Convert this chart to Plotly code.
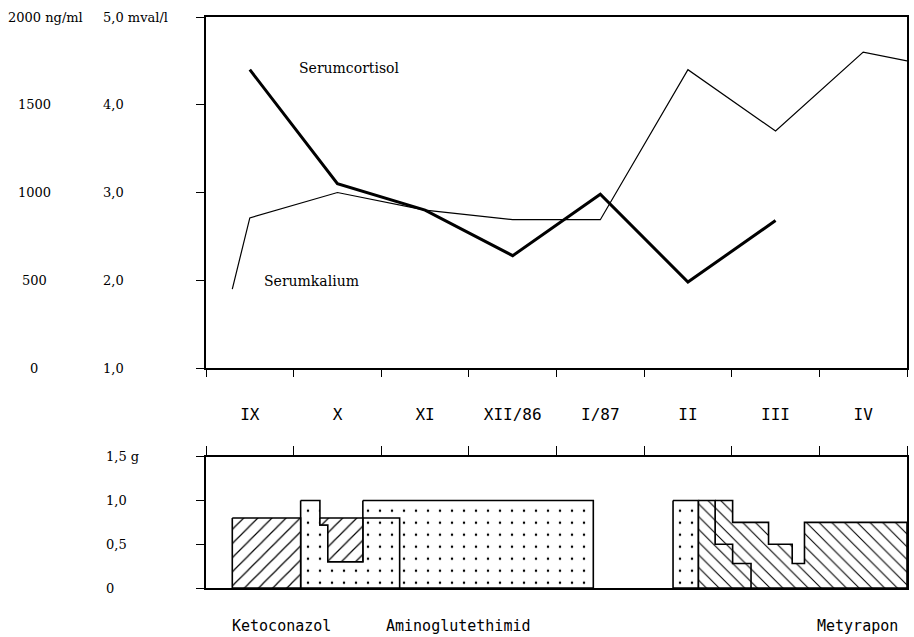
import plotly.graph_objects as go

# ---------------- data ----------------
months = ["IX", "X", "XI", "XII/86", "I/87", "II", "III", "IV"]
month_pos = [0.5, 1.5, 2.5, 3.5, 4.5, 5.5, 6.5, 7.5]

cortisol_x = [0.5, 1.5, 2.5, 3.5, 4.5, 5.5, 6.5]
cortisol = [1700, 1050, 900, 640, 990, 490, 840]          # ng/ml

kalium_x = [0.30, 0.5, 1.5, 2.5, 3.5, 4.5, 5.5, 6.5, 7.5, 8.0]
kalium = [1.90, 2.71, 3.00, 2.80, 2.69, 2.69, 4.40, 3.70, 4.60, 4.50]  # mval/l

cort_ticks = [0, 500, 1000, 1500, 2000]
cort_text = ["0", "500", "1000", "1500", "2000 ng/ml"]
kal_ticks = [1, 2, 3, 4, 5]
kal_text = ["1,0", "2,0", "3,0", "4,0", "5,0 mval/l"]
dose_ticks = [0, 0.5, 1.0, 1.5]
dose_text = ["0", "0,5", "1,0", "1,5 g"]

# dosage step blocks (g/day): edges in months, level per interval
keto_edges_1 = [0.30, 1.08]
keto_top_1 = [0.80]
keto_edges_2 = [1.30, 1.39, 1.79]
keto_top_2 = [0.80, 0.80]
keto_base_2 = [0.72, 0.30]

ag_edges_1 = [1.79, 4.42]
ag_top_1 = [1.0]
ag_edges_2 = [1.08, 1.30, 1.39, 1.79, 2.21]
ag_top_2 = [1.0, 0.72, 0.30, 0.80]
ag_edges_3 = [5.33, 5.62]
ag_top_3 = [1.0]

mety_edges_1 = [5.81, 6.01, 6.42, 6.69, 6.83, 8.0]
mety_top_1 = [1.0, 0.75, 0.50, 0.28, 0.75]
mety_edges_2 = [5.62, 5.81, 6.01, 6.22]
mety_top_2 = [1.0, 0.50, 0.28]

drugs = ["Ketoconazol", "Aminoglutethimid", "Metyrapon"]
drug_pos = [0.86, 2.88, 7.44]


def step_polygon(edges, top, base=None):
    if base is None:
        base = [0] * len(top)
    xs, ys = [], []
    for i, t in enumerate(top):
        xs += [edges[i], edges[i + 1]]
        ys += [t, t]
    for i in reversed(range(len(base))):
        xs += [edges[i + 1], edges[i]]
        ys += [base[i], base[i]]
    xs.append(xs[0])
    ys.append(ys[0])
    return xs, ys


fig = go.Figure()

# ---------------- top panel ----------------
fig.add_trace(go.Scatter(x=kalium_x, y=kalium, mode="lines",
                         line=dict(color="black", width=1.2),
                         xaxis="x", yaxis="y", hoverinfo="skip", showlegend=False))
fig.add_trace(go.Scatter(x=cortisol_x, y=cortisol, mode="lines",
                         line=dict(color="black", width=3),
                         xaxis="x", yaxis="y2", hoverinfo="skip", showlegend=False))

# ---------------- bottom panel ----------------
def add_block(edges, top, shape, size, solidity, base=None):
    xs, ys = step_polygon(edges, top, base)
    fig.add_trace(go.Scatter(
        x=xs, y=ys, mode="lines", fill="toself",
        fillcolor="white",
        fillpattern=dict(shape=shape, bgcolor="white", fgcolor="black",
                         size=size, solidity=solidity, fillmode="replace"),
        line=dict(color="black", width=1.6),
        xaxis="x2", yaxis="y3", hoverinfo="skip", showlegend=False))


add_block(ag_edges_1, ag_top_1, ".", 12, 0.035)
add_block(ag_edges_2, ag_top_2, ".", 12, 0.035)
add_block(ag_edges_3, ag_top_3, ".", 12, 0.035)
add_block(keto_edges_1, keto_top_1, "/", 10, 0.12)
add_block(keto_edges_2, keto_top_2, "/", 10, 0.12, keto_base_2)
add_block(mety_edges_1, mety_top_1, "\\", 9, 0.12)
add_block(mety_edges_2, mety_top_2, "\\", 9, 0.12)

# ---------------- layout ----------------
L, R, T, B = 205.5, 5, 17, 49
W, H = 914, 637
pw, ph = W - L - R, H - T - B


def px_x(px):
    return (px - L) / pw


def px_y(py):
    return (H - B - py) / ph


line_kw = dict(showline=True, mirror=True, linecolor="black", linewidth=1.5,
               showgrid=False, zeroline=False)

fig.update_layout(
    width=W, height=H,
    margin=dict(l=L, r=R, t=T, b=B),
    paper_bgcolor="white", plot_bgcolor="white",
    xaxis=dict(domain=[0, 1], range=[0, 8], anchor="y",
               tickmode="array", tickvals=month_pos, ticktext=months,
               ticks="", ticklabelstandoff=31,
               tickfont=dict(family="DejaVu Sans Mono", size=16, color="black"),
               minor=dict(tickmode="array", tickvals=list(range(9)),
                          ticks="outside", ticklen=7, tickcolor="black", tickwidth=1.2),
               **line_kw),
    yaxis=dict(domain=[px_y(368), 1], range=[1, 5], anchor="x",
               tickmode="array", tickvals=kal_ticks, ticks="outside", ticklen=8,
               tickcolor="black", tickwidth=1.2, showticklabels=False, **line_kw),
    yaxis2=dict(overlaying="y", range=[0, 2000], visible=False),
    xaxis2=dict(domain=[0, 1], range=[0, 8], anchor="y3", side="top",
                tickmode="array", tickvals=list(range(9)), ticks="outside", ticklen=9,
                tickcolor="black", tickwidth=1.2, showticklabels=False, **line_kw),
    yaxis3=dict(domain=[0, px_y(456.7)], range=[0, 1.5], anchor="x2",
                tickmode="array", tickvals=dose_ticks, ticks="outside", ticklen=8,
                tickcolor="black", tickwidth=1.2, showticklabels=False, **line_kw),
)

serif = dict(family="DejaVu Serif", size=13, color="black")
mono = dict(family="DejaVu Sans Mono", size=15, color="black")
ann = []
for v, t in zip(cort_ticks, cort_text):
    if t.endswith("ml"):
        ann.append(dict(x=px_x(5), xref="paper", y=v, yref="y2", text=t,
                        xanchor="left", yanchor="middle", showarrow=False, font=serif))
    else:
        ann.append(dict(x=px_x(33), xref="paper", y=v, yref="y2", text=t,
                        xanchor="center", yanchor="middle", showarrow=False, font=serif))
for v, t in zip(kal_ticks, kal_text):
    ann.append(dict(x=px_x(100), xref="paper", y=v, yref="y", text=t,
                    xanchor="left", yanchor="middle", showarrow=False, font=serif))
for v, t in zip(dose_ticks, dose_text):
    ann.append(dict(x=px_x(103), xref="paper", y=v, yref="y3", text=t,
                    xanchor="left", yanchor="middle", showarrow=False, font=serif))
ann.append(dict(x=1.04, xref="x", y=4.42, yref="y", text="Serumcortisol",
                xanchor="left", yanchor="middle", showarrow=False,
                font=dict(family="DejaVu Serif", size=14, color="black")))
ann.append(dict(x=0.64, xref="x", y=1.99, yref="y", text="Serumkalium",
                xanchor="left", yanchor="middle", showarrow=False,
                font=dict(family="DejaVu Serif", size=14, color="black")))
for d, p in zip(drugs, drug_pos):
    ann.append(dict(x=p, xref="x2", y=px_y(626), yref="paper", text=d,
                    xanchor="center", yanchor="middle", showarrow=False, font=mono))
fig.update_layout(annotations=ann)

fig.write_html("out.html", config={"displayModeBar": False},
               post_script="document.body.style.margin='0';")
